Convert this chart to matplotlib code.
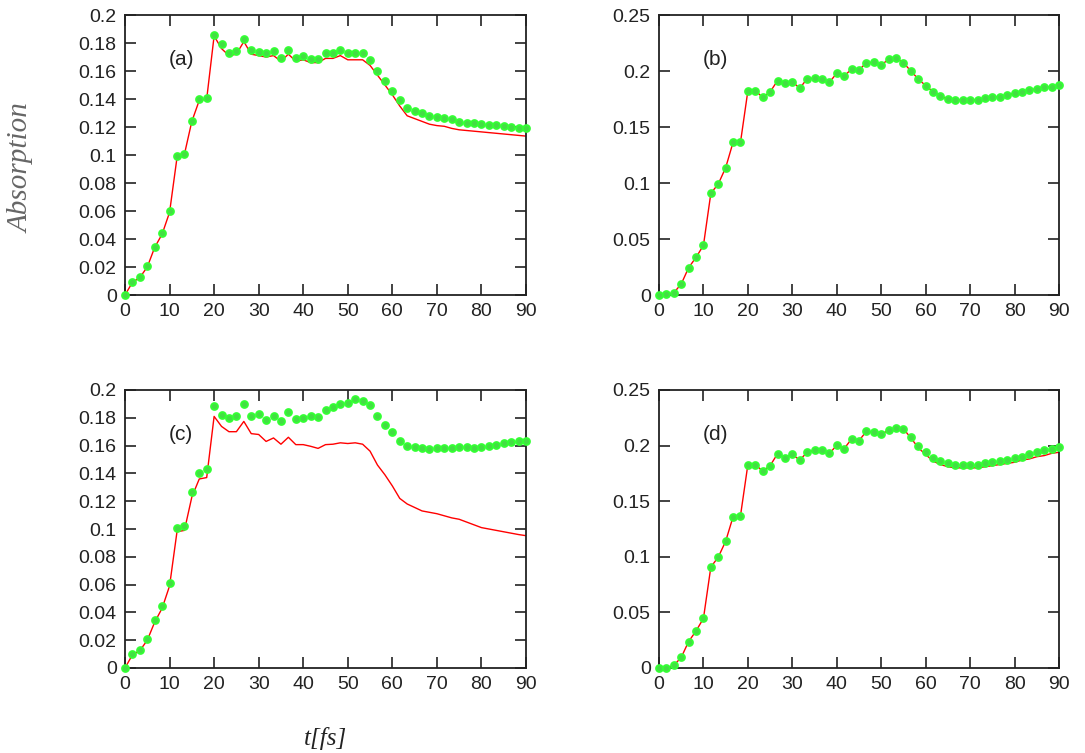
"""Absorption vs time, four panels (a)-(d), gnuplot-like look."""

import matplotlib
matplotlib.use("Agg")
import matplotlib.pyplot as plt
import numpy as np
from matplotlib.ticker import FormatStrFormatter, FuncFormatter

# time grid shared by all curves [fs]
T = np.linspace(0, 90, 55)

A_DOTS = [0, 0.0095, 0.013, 0.0207, 0.0345, 0.044, 0.060, 0.099, 0.101, 0.1245, 0.140, 0.1405,
          0.1855, 0.179, 0.173, 0.1745, 0.183, 0.175, 0.1736, 0.1726, 0.174, 0.169, 0.175, 0.169,
          0.1707, 0.1688, 0.1688, 0.173,
          0.1726, 0.175, 0.173, 0.173, 0.173, 0.168, 0.160, 0.153, 0.146, 0.139, 0.1336, 0.1317,
          0.130, 0.128, 0.127, 0.1264, 0.1255, 0.1236, 0.123, 0.1226, 0.1221, 0.1217, 0.1212,
          0.1207, 0.1198, 0.1193, 0.119]
A_LINE = [0, 0.009, 0.0125, 0.020, 0.034, 0.0435, 0.059, 0.098, 0.1005, 0.124, 0.139, 0.140,
          0.185, 0.176, 0.171, 0.172, 0.181, 0.172, 0.171, 0.170, 0.171, 0.167, 0.172, 0.167,
          0.168, 0.166, 0.166, 0.169,
          0.169, 0.171, 0.168, 0.168, 0.168, 0.164, 0.157, 0.150, 0.143, 0.135, 0.128, 0.126,
          0.124, 0.122, 0.121, 0.1205, 0.119, 0.118, 0.1175, 0.117, 0.1165, 0.116, 0.1155,
          0.115, 0.1145, 0.114, 0.1135]

B_DOTS = [0, 0.0006, 0.002, 0.0098, 0.0244, 0.0336, 0.0443, 0.0908, 0.0991, 0.1137, 0.1363, 0.1363,
          0.1824, 0.1824, 0.1765, 0.1813, 0.1914, 0.189, 0.1905, 0.1845, 0.1932, 0.1935, 0.1932,
          0.1899, 0.198, 0.1955, 0.2018, 0.2009,
          0.2074, 0.2077, 0.2054, 0.2104, 0.2113, 0.2074, 0.200, 0.1929, 0.1869, 0.1815, 0.1777,
          0.1747, 0.1741, 0.1741, 0.1741, 0.1741, 0.1756, 0.1765, 0.177, 0.1786, 0.180, 0.1815,
          0.183, 0.1842, 0.1854, 0.186, 0.1875]
B_LINE = list(B_DOTS)  # the two curves coincide in (b)

C_DOTS = [0, 0.010, 0.0131, 0.021, 0.0345, 0.0448, 0.0612, 0.1005, 0.102, 0.1267, 0.1405, 0.1433,
          0.1886, 0.182, 0.180, 0.181, 0.190, 0.181, 0.1826, 0.1786, 0.181, 0.178, 0.1845, 0.179,
          0.1798, 0.181, 0.1805, 0.1857,
          0.1876, 0.190, 0.1905, 0.1933, 0.1924, 0.1893, 0.181, 0.1745, 0.1695, 0.163, 0.160,
          0.159, 0.1583, 0.1576, 0.1583, 0.1583, 0.1583, 0.1588, 0.1588, 0.1583, 0.159, 0.1595,
          0.1607, 0.162, 0.1624, 0.163, 0.1636]
C_LINE = [0, 0.0095, 0.0125, 0.020, 0.033, 0.043, 0.059, 0.098, 0.099, 0.123, 0.136, 0.137,
          0.181, 0.1738, 0.170, 0.170, 0.1774, 0.1686, 0.168, 0.163, 0.1655, 0.161, 0.166, 0.1607,
          0.1607, 0.1595, 0.158, 0.1607,
          0.161, 0.162, 0.1615, 0.162, 0.161, 0.156, 0.146, 0.139, 0.131, 0.122, 0.118, 0.1155,
          0.113, 0.112, 0.111, 0.1095, 0.108, 0.107, 0.105, 0.103, 0.101, 0.100, 0.099, 0.098,
          0.097, 0.096, 0.0952]

D_DOTS = [0, 0, 0.0024, 0.0095, 0.0238, 0.0333, 0.0446, 0.0908, 0.0997, 0.114, 0.136, 0.1369,
          0.183, 0.183, 0.177, 0.182, 0.1926, 0.189, 0.192, 0.187, 0.194, 0.1958, 0.1958, 0.1929,
          0.2003, 0.1973, 0.206, 0.2045,
          0.2128, 0.212, 0.210, 0.214, 0.216, 0.215, 0.208, 0.200, 0.194, 0.189, 0.186, 0.184,
          0.183, 0.183, 0.183, 0.183, 0.184, 0.185, 0.186, 0.187, 0.189, 0.190, 0.192, 0.194,
          0.196, 0.197, 0.199]
D_LINE = [0, 0, 0.0024, 0.0095, 0.0238, 0.0333, 0.0446, 0.0908, 0.0997, 0.114, 0.136, 0.1369,
          0.183, 0.183, 0.177, 0.182, 0.1926, 0.189, 0.192, 0.187, 0.194, 0.1958, 0.1958, 0.1929,
          0.2003, 0.1973, 0.206, 0.2045,
          0.2128, 0.212, 0.210, 0.214, 0.216, 0.215, 0.207, 0.198, 0.192, 0.186, 0.183, 0.181,
          0.180, 0.180, 0.180, 0.180, 0.181, 0.182, 0.183, 0.184, 0.185, 0.187, 0.188, 0.190,
          0.191, 0.193, 0.194]

PANELS = ["(a)", "(b)", "(c)", "(d)"]
X_TICKS = np.arange(0, 91, 10)

W, H = 1085, 753
# axes boxes in pixels: left, top, right, bottom
BOXES = [(125, 15, 526, 295), (659, 15, 1059, 295),
         (125, 390, 526, 668), (659, 390, 1059, 668)]


def gfmt(v, _pos):
    return "%g" % round(v, 4)


def main():
    plt.rcParams["font.family"] = ["Liberation Sans", "DejaVu Sans"]
    fig = plt.figure(figsize=(W / 100, H / 100), dpi=100)

    data = [(A_DOTS, A_LINE, 0.2, 0.02), (B_DOTS, B_LINE, 0.25, 0.05),
            (C_DOTS, C_LINE, 0.2, 0.02), (D_DOTS, D_LINE, 0.25, 0.05)]

    for (dots, line, ymax, ystep), label, (l, t, r, b) in zip(data, PANELS, BOXES):
        ax = fig.add_axes([l / W, (H - b) / H, (r - l) / W, (b - t) / H])
        ax.plot(T, line, color="#ff0000", linewidth=1.0, zorder=2)
        ax.plot(T, dots, linestyle="none", marker="o", markersize=5.0,
                markerfacecolor="#44dd44", markeredgecolor="#33ff33",
                markeredgewidth=1.3, clip_on=False, zorder=3)
        ax.set_xlim(0, 90)
        ax.set_ylim(0, ymax)
        ax.set_xticks(X_TICKS)
        ax.set_yticks(np.arange(0, ymax + ystep / 2, ystep))
        ax.yaxis.set_major_formatter(FuncFormatter(gfmt))
        ax.xaxis.set_major_formatter(FormatStrFormatter("%d"))
        ax.tick_params(direction="in", length=8, width=1.2, top=True, right=True,
                       labelsize=14, pad=6, colors="#222222")
        for sp in ax.spines.values():
            sp.set_linewidth(1.3)
            sp.set_color("#222222")
        ax.text(0.11, 0.84, label, transform=ax.transAxes, fontsize=15,
                va="center", ha="left", color="#222222")

    fig.text(22 / W, 1 - 168 / H, "Absorption", rotation=90, ha="center", va="center",
             fontsize=21, family="Liberation Serif", style="italic", color="#666666")
    fig.text(326 / W, 1 - 738 / H, "t[fs]", ha="center", va="center", fontsize=18,
             family="Liberation Serif", style="italic", color="#222222")

    fig.savefig("out.png", dpi=100)


if __name__ == "__main__":
    main()
